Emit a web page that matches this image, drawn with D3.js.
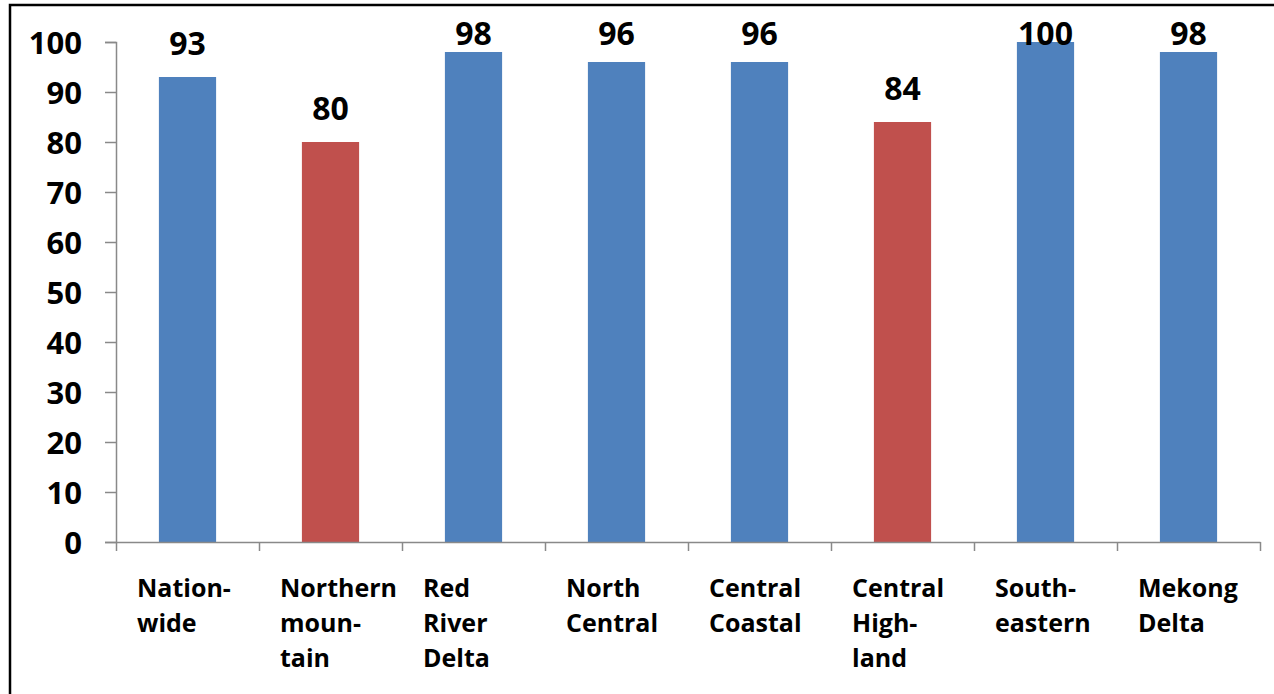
<!DOCTYPE html>
<html>
<head>
<meta charset="utf-8">
<script src="https://cdn.jsdelivr.net/npm/d3@7"></script>
<style>
  html, body { margin: 0; padding: 0; background: #fff; overflow: hidden; }
  svg { display: block; }
  text { font-family: "Open Sans", "Liberation Sans", sans-serif; font-weight: 700; fill: #000; }
</style>
</head>
<body>
<svg id="chart" width="1274" height="694"></svg>
<script>
// Regions and their values (percent)
const regions = ["Nationwide", "Northern mountain", "Red River Delta", "North Central",
                 "Central Coastal", "Central Highland", "Southeastern", "Mekong Delta"];
const values = [93, 80, 98, 96, 96, 84, 100, 98];
// Category labels as they wrap under the axis
const regionLabels = [
  ["Nation-", "wide"],
  ["Northern", "moun-", "tain"],
  ["Red", "River", "Delta"],
  ["North", "Central"],
  ["Central", "Coastal"],
  ["Central", "High-", "land"],
  ["South-", "eastern"],
  ["Mekong", "Delta"]
];
// Regions singled out for lower values
const flaggedRegions = ["Northern mountain", "Central Highland"];
const yTicks = [0, 10, 20, 30, 40, 50, 60, 70, 80, 90, 100];

const BLUE = "#4F81BD", RED = "#C0504D", AXIS = "#898989";

const svg = d3.select("#chart");

// Outer frame
svg.append("rect")
  .attr("x", 10).attr("y", 5)
  .attr("width", 1280).attr("height", 700)
  .attr("fill", "none").attr("stroke", "#000").attr("stroke-width", 2.5);

const plotLeft = 116, plotRight = 1260, plotTop = 42, plotBottom = 542;

const x = d3.scaleBand().domain(regions).range([plotLeft, plotRight]).padding(0);
const y = d3.scaleLinear().domain([0, 100]).range([plotBottom, plotTop]);
const slot = d3.scaleLinear().domain([0, regions.length]).range([plotLeft, plotRight]);

// Bars
const bw = x.bandwidth() * 0.4;
svg.append("g").selectAll("rect")
  .data(regions)
  .join("rect")
  .attr("x", d => x(d) + (x.bandwidth() - bw) / 2)
  .attr("width", bw)
  .attr("y", (d, i) => y(values[i]))
  .attr("height", (d, i) => y(0) - y(values[i]))
  .attr("fill", d => flaggedRegions.includes(d) ? RED : BLUE);

// Y axis
const yAxis = svg.append("g")
  .attr("transform", `translate(${plotLeft},0)`)
  .call(d3.axisLeft(y).tickValues(yTicks).tickFormat(d3.format("d")).tickSize(11).tickPadding(23));
yAxis.select(".domain").attr("stroke", AXIS).attr("stroke-width", 1.5);
yAxis.selectAll(".tick line").attr("stroke", AXIS).attr("stroke-width", 1.5);
yAxis.selectAll(".tick text")
  .attr("font-size", 31).attr("dy", "0.36em")
  .style("font-family", "'Open Sans', sans-serif").style("font-weight", 700).attr("fill", "#000");

// X axis with ticks between categories
const xAxis = svg.append("g")
  .attr("transform", `translate(0,${plotBottom})`)
  .call(d3.axisBottom(slot).tickValues(d3.range(regions.length + 1)).tickFormat("").tickSize(9).tickSizeOuter(0));
xAxis.select(".domain").attr("stroke", AXIS).attr("stroke-width", 1.5);
xAxis.selectAll(".tick line").attr("stroke", AXIS).attr("stroke-width", 1.5);

// Category labels
const catG = svg.append("g");
regions.forEach((r, i) => {
  const t = catG.append("text")
    .attr("x", x(r) + 21)
    .attr("y", 597)
    .attr("font-size", 25);
  regionLabels[i].forEach((line, j) => {
    t.append("tspan").attr("x", x(r) + 21).attr("y", 597 + j * 35).text(line);
  });
});

// Value labels above bars, kept inside the frame
svg.append("g").selectAll("text")
  .data(regions)
  .join("text")
  .attr("x", d => x(d) + x.bandwidth() / 2)
  .attr("y", (d, i) => Math.max(y(values[i]) - 22, 45))
  .attr("text-anchor", "middle")
  .attr("font-size", 32)
  .text((d, i) => values[i]);
</script>
</body>
</html>
